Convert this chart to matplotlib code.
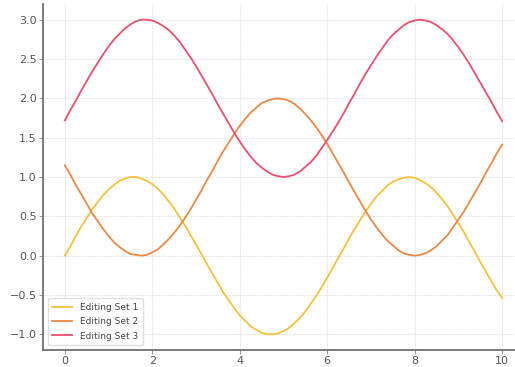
import matplotlib
matplotlib.use("Agg")
import matplotlib.pyplot as plt

# valores (paso 0.125)
x = [0.0, 0.125, 0.25, 0.375, 0.5, 0.625, 0.75, 0.875, 1.0, 1.125, 1.25, 1.375,
     1.5, 1.625, 1.75, 1.875, 2.0, 2.125, 2.25, 2.375, 2.5, 2.625, 2.75, 2.875,
     3.0, 3.125, 3.25, 3.375, 3.5, 3.625, 3.75, 3.875, 4.0, 4.125, 4.25, 4.375,
     4.5, 4.625, 4.75, 4.875, 5.0, 5.125, 5.25, 5.375, 5.5, 5.625, 5.75, 5.875,
     6.0, 6.125, 6.25, 6.375, 6.5, 6.625, 6.75, 6.875, 7.0, 7.125, 7.25, 7.375,
     7.5, 7.625, 7.75, 7.875, 8.0, 8.125, 8.25, 8.375, 8.5, 8.625, 8.75, 8.875,
     9.0, 9.125, 9.25, 9.375, 9.5, 9.625, 9.75, 9.875, 10.0]

set1 = [0.00, 0.12, 0.25, 0.37, 0.48, 0.59, 0.68, 0.77, 0.84, 0.90, 0.95, 0.98,
        1.00, 1.00, 0.98, 0.95, 0.91, 0.85, 0.78, 0.69, 0.60, 0.49, 0.38, 0.26,
        0.14, 0.02, -0.11, -0.23, -0.35, -0.47, -0.57, -0.67, -0.76, -0.83, -0.90, -0.94,
        -0.98, -1.00, -1.00, -0.99, -0.96, -0.92, -0.86, -0.79, -0.71, -0.61, -0.51, -0.40,
        -0.28, -0.16, -0.03, 0.09, 0.22, 0.34, 0.45, 0.56, 0.66, 0.75, 0.82, 0.89,
        0.94, 0.97, 0.99, 1.00, 0.99, 0.96, 0.92, 0.87, 0.80, 0.72, 0.63, 0.52,
        0.41, 0.30, 0.17, 0.05, -0.08, -0.20, -0.32, -0.44, -0.54]

set2 = [1.15, 1.03, 0.90, 0.78, 0.66, 0.54, 0.44, 0.34, 0.25, 0.17, 0.11, 0.06,
        0.02, 0.01, 0.00, 0.01, 0.04, 0.08, 0.14, 0.21, 0.29, 0.38, 0.48, 0.59,
        0.71, 0.83, 0.96, 1.08, 1.21, 1.33, 1.44, 1.55, 1.65, 1.74, 1.82, 1.88,
        1.94, 1.97, 1.99, 2.00, 1.99, 1.97, 1.93, 1.87, 1.80, 1.72, 1.63, 1.53,
        1.42, 1.30, 1.18, 1.06, 0.93, 0.81, 0.69, 0.57, 0.46, 0.36, 0.27, 0.19,
        0.13, 0.07, 0.03, 0.01, 0.00, 0.01, 0.03, 0.07, 0.12, 0.19, 0.26, 0.36,
        0.46, 0.56, 0.68, 0.80, 0.92, 1.05, 1.17, 1.30, 1.41]

set3 = [1.72, 1.85, 1.97, 2.10, 2.22, 2.34, 2.45, 2.56, 2.66, 2.75, 2.82, 2.89,
        2.94, 2.98, 3.00, 3.00, 2.99, 2.96, 2.92, 2.87, 2.80, 2.72, 2.62, 2.52,
        2.41, 2.29, 2.17, 2.05, 1.92, 1.80, 1.68, 1.56, 1.45, 1.35, 1.26, 1.18,
        1.12, 1.07, 1.03, 1.01, 1.00, 1.01, 1.03, 1.07, 1.13, 1.19, 1.27, 1.37,
        1.47, 1.58, 1.69, 1.81, 1.94, 2.06, 2.19, 2.31, 2.42, 2.53, 2.63, 2.73,
        2.81, 2.87, 2.93, 2.97, 2.99, 3.00, 2.99, 2.97, 2.93, 2.88, 2.82, 2.74,
        2.65, 2.55, 2.44, 2.32, 2.20, 2.08, 1.96, 1.83, 1.71]

labels = ["Editing Set 1", "Editing Set 2", "Editing Set 3"]
colores = ["#f5c13f", "#ee8845", "#e9506f"]

fig = plt.figure(figsize=(5.15, 3.67), dpi=100)
# el eje se sale un poco por la derecha, como en la imagen original
ax = fig.add_axes([43 / 515, 17 / 367, 481 / 515, 346 / 367])

for serie, lab, col in zip([set1, set2, set3], labels, colores):
    ax.plot(x, serie, color=col, linewidth=1.3, label=lab)

ax.set_xlim(-0.5, 10.5)
ax.set_ylim(-1.2, 3.2)
ax.set_xticks([0, 2, 4, 6, 8, 10])
ax.set_yticks([-1.0, -0.5, 0.0, 0.5, 1.0, 1.5, 2.0, 2.5, 3.0])
ax.grid(True, color="#e4e4e4", linewidth=0.8, linestyle=(0, (1, 0.6)))
ax.set_axisbelow(True)

for s in ["top", "right"]:
    ax.spines[s].set_visible(False)
for s in ["left", "bottom"]:
    ax.spines[s].set_color("#6f6f6f")
    ax.spines[s].set_linewidth(1.3)
ax.tick_params(colors="#555555", labelsize=8, length=3, width=0.8, pad=1.5)
ax.tick_params(axis="both", color="#999999")

leg = ax.legend(loc="lower left", fontsize=6.5, frameon=True, framealpha=0.9,
                edgecolor="#dddddd", handlelength=2.2, borderpad=0.55,
                labelspacing=0.6)
for t in leg.get_texts():
    t.set_color("#444444")

fig.savefig("out.png", dpi=100)
